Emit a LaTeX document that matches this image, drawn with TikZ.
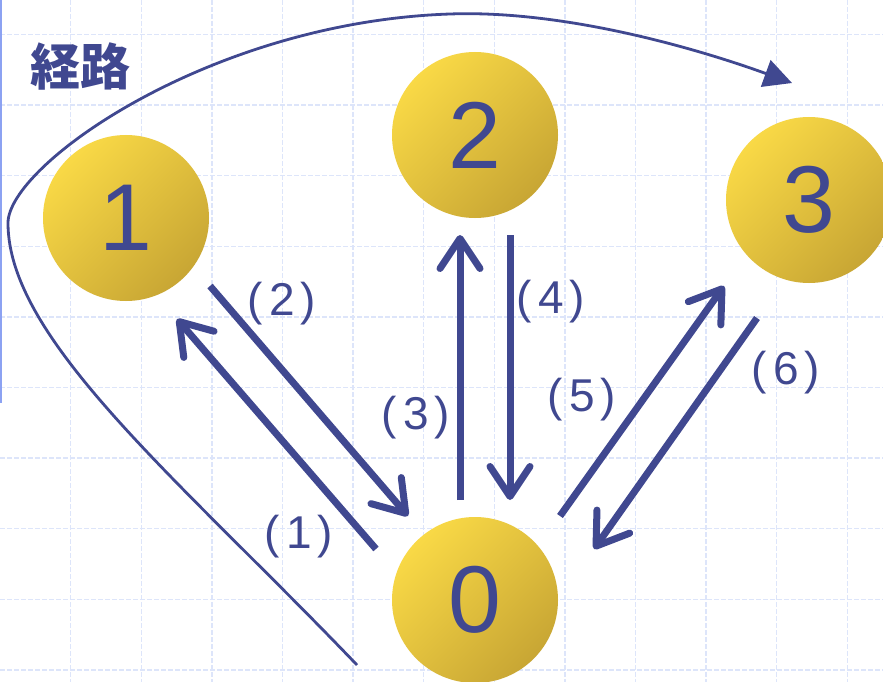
\documentclass[tikz,border=0pt]{standalone}
\usepackage{fontspec}
\setmainfont{Liberation Sans}
\newfontfamily\cjk{Noto Sans CJK JP}
\usetikzlibrary{arrows.meta,calc}
\definecolor{navy}{HTML}{404890}
\definecolor{ylight}{HTML}{F9D946}
\definecolor{ydark}{HTML}{C8A634}
\definecolor{gridc}{HTML}{DDE5FA}
\definecolor{edgec}{HTML}{8CA2F2}
\tikzset{
  ball/.style={circle, minimum size=166pt, inner sep=0pt, top color=ylight, bottom color=ydark, shading angle=45, text=navy, font=\fontsize{95}{95}\selectfont},
  gridline/.style={gridc, line width=1.4pt, dash pattern=on 5pt off 2pt},
  flow/.style={navy, line width=7pt, -{Straight Barb[round, length=30pt, width=40pt]}},
  lab/.style={text=navy, font=\fontsize{46}{46}\selectfont, inner sep=0pt},
  route/.style={navy, line width=2.8pt, -{Triangle[length=28pt, width=28pt]}}
}
\newcommand{\lb}[1]{(\kern6pt#1\kern6pt)}
\begin{document}
\begin{tikzpicture}[x=1pt, y=-1pt]
\useasboundingbox (0,0) rectangle (883,682);
\fill[white] (0,0) rectangle (883,682);
\foreach \i in {1,...,12} \draw[gridline] (\i*70.6,0) -- (\i*70.6,682);
\foreach \j in {0,...,9} \draw[gridline] (0,34.4+\j*70.6) -- (883,34.4+\j*70.6);
\draw[edgec, line width=2pt] (1,0) -- (1,403);

\node[ball] (n1) at (126,218) {1};
\node[ball] (n2) at (475,135) {2};
\node[ball] (n3) at (809,200) {3};
\node[ball] (n0) at (475,600) {0};

\node[text=navy, font=\cjk\bfseries\fontsize{50}{50}\selectfont, inner sep=0pt] (title) at (80,66) {経路};

\coordinate (rs) at (357,665);
\coordinate (rl) at (8,223);
\coordinate (rt) at (450,14);
\coordinate (re) at (792,83);
\draw[route] (rs) .. controls (180,480) and (8,340) .. (rl)
  .. controls (8,165) and (210,22) .. (rt)
  .. controls (560,10) and (690,46) .. (re);

\draw[flow] ($(n0)+(-99,-51)$) -- ($(n1)+(51,101)$);
\draw[flow] ($(n1)+(84,68)$) -- ($(n0)+(-67,-84)$);
\draw[flow] ($(n0)+(-15,-100)$) -- ($(n2)+(-15,100)$);
\draw[flow] ($(n2)+(35,100)$) -- ($(n0)+(35,-100)$);
\draw[flow] ($(n0)+(85,-84)$) -- ($(n3)+(-85,86)$);
\draw[flow] ($(n3)+(-52,118)$) -- ($(n0)+(119,-51)$);

\node[lab] (l1) at (299,537) {\lb{1}};
\node[lab] (l2) at (282,304) {\lb{2}};
\node[lab] (l3) at (416,418) {\lb{3}};
\node[lab] (l4) at (551,302) {\lb{4}};
\node[lab] (l5) at (582,400) {\lb{5}};
\node[lab] (l6) at (786,373) {\lb{6}};
\end{tikzpicture}
\end{document}
